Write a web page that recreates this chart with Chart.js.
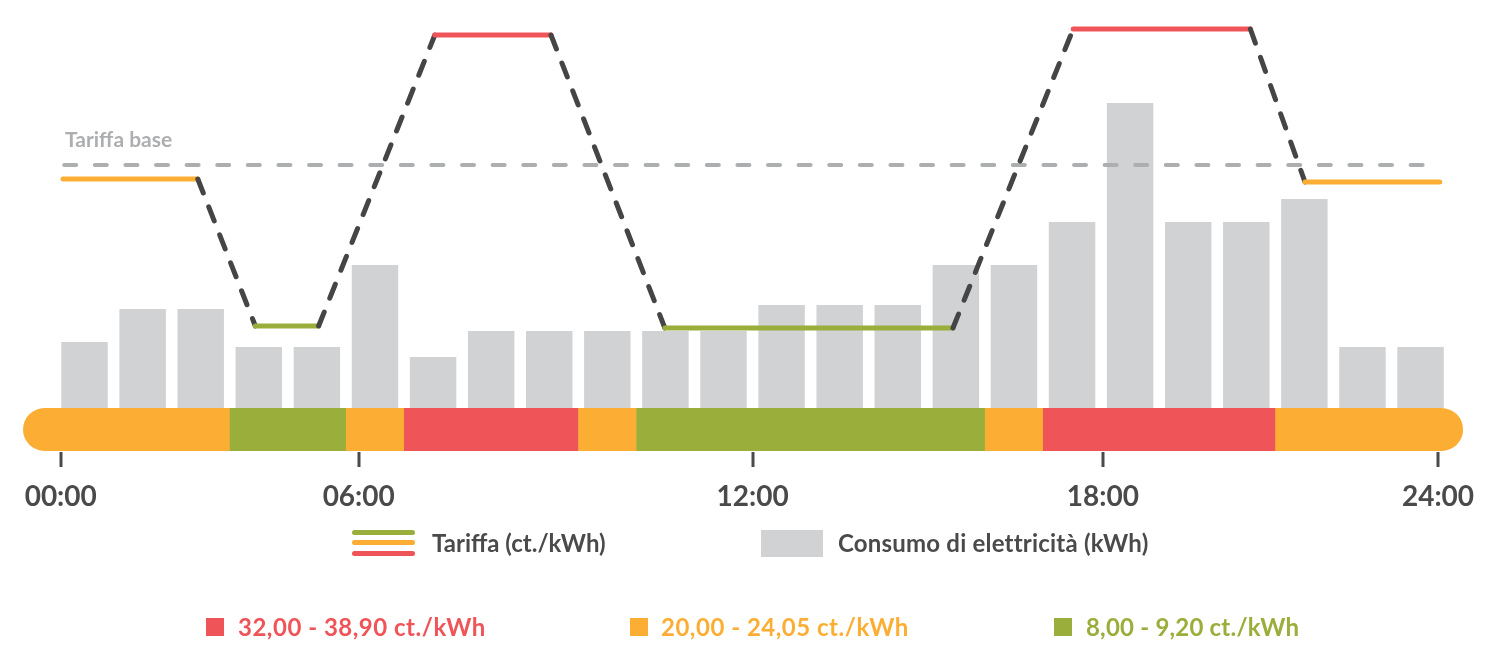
<!DOCTYPE html>
<html lang="it">
<head>
<meta charset="utf-8">
<title>Tariffa dinamica e consumo</title>
<script src="https://cdn.jsdelivr.net/npm/chart.js@4.4.1/dist/chart.umd.min.js"></script>
<style>
  html, body { margin: 0; padding: 0; background: #fff; }
  #wrap { position: relative; width: 1502px; height: 670px; font-family: Lato, "Open Sans", sans-serif; overflow: hidden; }
  #chart { position: absolute; left: 0; top: 0; }
  .txt { position: absolute; white-space: nowrap; font-weight: 700; line-height: 1; }
  .box { position: absolute; }
</style>
</head>
<body>
<div id="wrap">
  <canvas id="chart" width="1502" height="670"></canvas>

  <div class="txt" id="baseLabel" style="left:65px; top:128px; font-size:21px; color:#ADAEB0;">Tariffa base</div>

  <!-- legend row 1 -->
  <div class="box" style="left:352px; top:530px; width:63px; height:5px; border-radius:3px; background:#9AAE3B;"></div>
  <div class="box" style="left:352px; top:540px; width:63px; height:5px; border-radius:3px; background:#FBAE33;"></div>
  <div class="box" style="left:352px; top:551px; width:63px; height:5px; border-radius:3px; background:#EF5459;"></div>
  <div class="txt" style="left:432px; top:531px; font-size:24px; color:#4A4A4A;">Tariffa (ct./kWh)</div>
  <div class="box" style="left:761px; top:530px; width:62px; height:27px; background:#D1D2D4;"></div>
  <div class="txt" style="left:838px; top:531px; font-size:24px; letter-spacing:0.2px; color:#4A4A4A;">Consumo di elettricità (kWh)</div>

  <!-- legend row 2 -->
  <div class="box" style="left:206px; top:618px; width:18px; height:18px; background:#EF5459;"></div>
  <div class="txt" style="left:238px; top:615px; font-size:24px; letter-spacing:0.5px; color:#EF5459;">32,00 - 38,90 ct./kWh</div>
  <div class="box" style="left:630px; top:618px; width:18px; height:18px; background:#FBAE33;"></div>
  <div class="txt" style="left:661px; top:615px; font-size:24px; letter-spacing:0.5px; color:#FBAE33;">20,00 - 24,05 ct./kWh</div>
  <div class="box" style="left:1054px; top:618px; width:18px; height:18px; background:#9AAE3B;"></div>
  <div class="txt" style="left:1086px; top:615px; font-size:24px; letter-spacing:0.2px; color:#9AAE3B;">8,00 - 9,20 ct./kWh</div>
</div>

<script>
// hourly consumption (kWh), one bar per hour, centred on the half hour
const barHours = [0.5, 1.5, 2.5, 3.5, 4.5, 5.5, 6.5, 7.5, 8.5, 9.5, 10.5, 11.5,
                  12.5, 13.5, 14.5, 15.5, 16.5, 17.5, 18.5, 19.5, 20.5, 21.5, 22.5, 23.5];
const consumption = [0.66, 0.99, 0.99, 0.61, 0.61, 1.43, 0.51, 0.77, 0.77, 0.77, 0.77, 0.77,
                     1.03, 1.03, 1.03, 1.43, 1.43, 1.86, 3.05, 1.86, 1.86, 2.09, 0.61, 0.61];

// tariff curve (ct./kWh)
const tariffHours = [0.13, 2.45, 3.44, 4.53, 6.53, 8.53, 10.49, 15.45, 17.52, 20.57, 21.51, 23.83];
const tariffValues = [22.9, 22.9, 8.2, 8.2, 37.3, 37.3, 8.0, 8.0, 37.9, 37.9, 22.6, 22.6];

// base tariff reference line
const baseHours = [0.15, 23.83];
const baseTariff = 24.3;

// tariff periods for the colour band
const bandStart = [0, 3, 5, 6, 9, 10, 16, 17, 21];
const bandEnd = [3, 5, 6, 9, 10, 16, 17, 21, 24];
const bandLevel = ['mid', 'low', 'mid', 'high', 'mid', 'low', 'mid', 'high', 'mid'];

// x axis labels
const tickHours = [0.09, 5.22, 12, 18.03, 23.8];
const tickLabels = ['00:00', '06:00', '12:00', '18:00', '24:00'];

const COLORS = {
    high: '#EF5459',
    mid: '#FBAE33',
    low: '#9AAE3B',
    bar: '#D1D2D4',
    line: '#454545',
    base: '#ADAEB0',
    text: '#4A4A4A'
};

function levelOf(v) {
    if (v >= 30) return 'high';
    if (v >= 15) return 'mid';
    return 'low';
}

const isFlat = c => c.p0.parsed.y === c.p1.parsed.y;

// colour band under the bars + tick marks
const tariffBand = {
    id: 'tariffBand',
    afterDraw(chart) {
        const { ctx, chartArea, scales: { x } } = chart;
        const top = chartArea.bottom;
        const h = 43;
        const left = x.getPixelForValue(0) - 32.5;
        const right = x.getPixelForValue(24) + 13.5;

        ctx.save();
        ctx.beginPath();
        ctx.roundRect(left, top, right - left, h, h / 2);
        ctx.clip();
        bandStart.forEach((s, i) => {
            const x0 = i === 0 ? left : x.getPixelForValue(s);
            const x1 = i === bandStart.length - 1 ? right : x.getPixelForValue(bandEnd[i]);
            ctx.fillStyle = COLORS[bandLevel[i]];
            ctx.fillRect(x0, top, x1 - x0 + 0.5, h);
        });
        ctx.restore();

        ctx.save();
        ctx.strokeStyle = COLORS.text;
        ctx.lineWidth = 3;
        x.ticks.forEach(t => {
            const px = Math.round(x.getPixelForValue(t.value));
            ctx.beginPath();
            ctx.moveTo(px, top + h + 1);
            ctx.lineTo(px, top + h + 16);
            ctx.stroke();
        });
        ctx.restore();
    }
};

new Chart(document.getElementById('chart'), {
    data: {
        datasets: [
            {
                type: 'line',
                label: 'Tariffa (ct./kWh)',
                data: tariffHours.map((h, i) => ({ x: h, y: tariffValues[i] })),
                yAxisID: 'yTar',
                order: 0,
                borderWidth: 5,
                pointRadius: 0,
                tension: 0,
                borderCapStyle: 'round',
                borderJoinStyle: 'round',
                borderColor: COLORS.line,
                segment: {
                    borderColor: c => isFlat(c) ? COLORS[levelOf(c.p0.parsed.y)] : COLORS.line,
                    borderDash: c => isFlat(c) ? [] : [15, 15]
                }
            },
            {
                type: 'line',
                label: 'Tariffa base',
                data: baseHours.map(h => ({ x: h, y: baseTariff })),
                yAxisID: 'yTar',
                order: 1,
                borderWidth: 4,
                pointRadius: 0,
                borderColor: COLORS.base,
                borderCapStyle: 'round',
                borderDash: [12, 18.6]
            },
            {
                type: 'bar',
                label: 'Consumo di elettricità (kWh)',
                data: barHours.map((h, i) => ({ x: h, y: consumption[i] })),
                yAxisID: 'yBar',
                order: 2,
                backgroundColor: COLORS.bar,
                borderWidth: 0,
                barPercentage: 1,
                categoryPercentage: 0.8
            }
        ]
    },
    options: {
        responsive: false,
        animation: false,
        layout: { padding: { left: 55.5, right: 52.4, top: 20, bottom: 158 } },
        plugins: {
            legend: { display: false },
            tooltip: { enabled: false }
        },
        scales: {
            x: {
                type: 'linear',
                min: 0,
                max: 24,
                offset: false,
                grid: { display: false, drawTicks: false },
                border: { display: false },
                afterBuildTicks: scale => {
                    scale.ticks = tickHours.map(v => ({ value: v }));
                },
                afterFit: scale => {
                    // keep the plot edges where the hours are, labels may overflow
                    scale.paddingLeft = 0;
                    scale.paddingRight = 0;
                    scale.height = 104;
                },
                ticks: {
                    autoSkip: false,
                    maxRotation: 0,
                    padding: 72,
                    color: COLORS.text,
                    font: { family: 'Lato', size: 28, weight: 'bold' },
                    callback: (v, i) => tickLabels[i]
                }
            },
            yBar: { display: false, min: 0, max: 3.88 },
            yTar: { display: false, min: 0, max: 38.8 }
        }
    },
    plugins: [tariffBand]
});
</script>
</body>
</html>
